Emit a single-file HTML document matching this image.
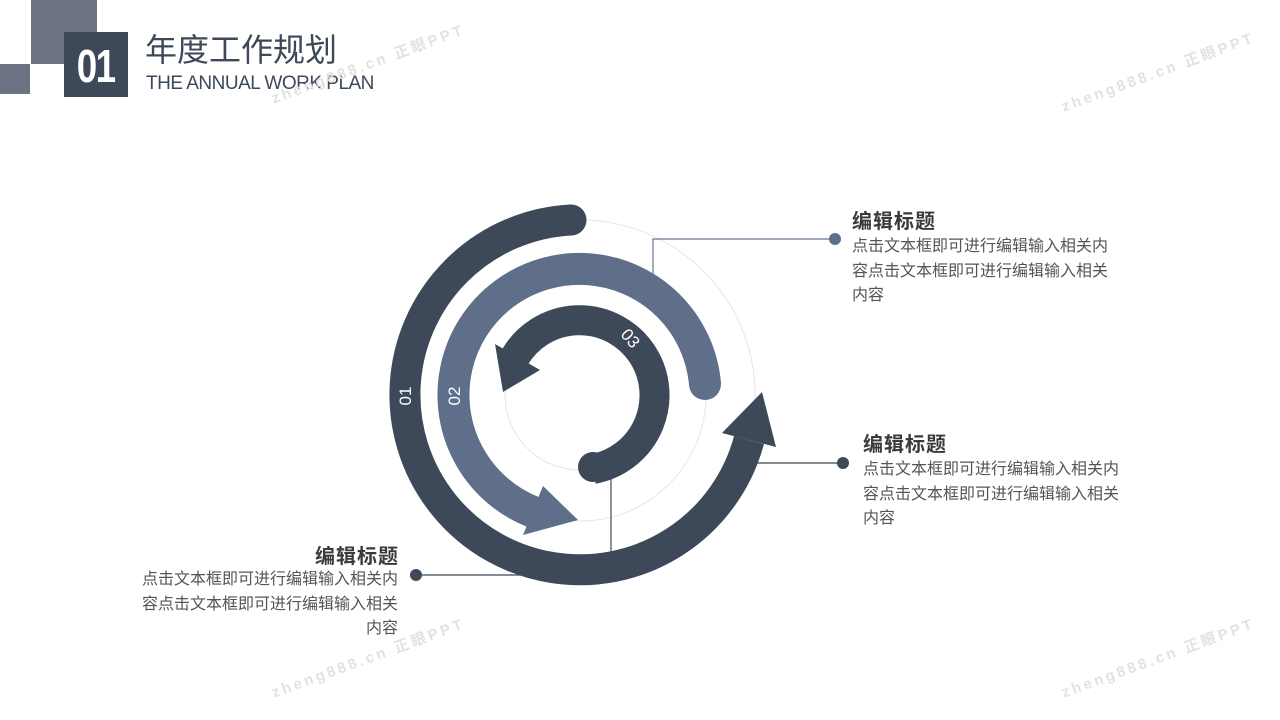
<!DOCTYPE html>
<html><head><meta charset="utf-8"><style>
body{margin:0;width:1280px;height:720px;overflow:hidden;background:#fff;position:relative;font-family:"Liberation Sans","Noto Sans CJK SC",sans-serif;}
.a{position:absolute;white-space:nowrap;}
.t{font-size:20px;font-weight:bold;color:#3a3a3a;letter-spacing:1px;line-height:24px;}
.b{font-size:16px;color:#555;letter-spacing:0;line-height:24.5px;}
.wm{position:absolute;color:#e2e2e2;font-size:15px;letter-spacing:3px;transform:rotate(-20deg);transform-origin:left center;font-weight:bold;white-space:nowrap;}
</style></head><body>
<div class="a" style="left:31px;top:0;width:66px;height:64px;background:#6c7383"></div>
<div class="a" style="left:0;top:64px;width:30px;height:30px;background:#6c7383"></div>
<div class="a" style="left:64px;top:32px;width:64px;height:65px;background:#3d4858;color:#fff;font-size:46px;font-weight:bold;text-align:center;line-height:68px;letter-spacing:-2px;"><span style="display:inline-block;transform:scaleX(0.8)">01</span></div>
<div class="a" style="left:145px;top:30px;font-size:32px;color:#3d4858;line-height:40px;">年度工作规划</div>
<div class="a" style="left:146px;top:73px;font-size:19px;color:#3d4858;letter-spacing:-0.5px;">THE ANNUAL WORK PLAN</div>

<div class="wm" style="left:272px;top:88px;">zheng888.cn 正眼PPT</div>
<div class="wm" style="left:1062px;top:96px;">zheng888.cn 正眼PPT</div>
<div class="wm" style="left:272px;top:682px;">zheng888.cn 正眼PPT</div>
<div class="wm" style="left:1062px;top:682px;">zheng888.cn 正眼PPT</div>

<svg class="a" style="left:0;top:0" width="1280" height="720">
<g fill="none" stroke="#e6e6e6" stroke-width="1">
<circle cx="580" cy="395" r="175"/><circle cx="580" cy="395" r="126"/><circle cx="580" cy="395" r="75"/>
</g>
<path d="M571,220 A175,175 0 1 0 749,440" fill="none" stroke="#3d4858" stroke-width="31"/>
<circle cx="571" cy="220" r="15.5" fill="#3d4858"/>
<polygon points="762,392 776,447 722,433" fill="#3d4858"/>
<path d="M705,384 A126,126 0 1 0 533,512" fill="none" stroke="#5f6f8a" stroke-width="32"/>
<circle cx="705" cy="384" r="16" fill="#5f6f8a"/>
<polygon points="578,520 543,486 523,535" fill="#5f6f8a"/>
<path d="M593,469 A75,75 0 1 0 515,357" fill="none" stroke="#3d4858" stroke-width="30"/>
<circle cx="593" cy="467" r="15" fill="#3d4858"/>
<polygon points="503,392 495,344 540,370" fill="#3d4858"/>
<g fill="#fff" font-size="17" font-family="Liberation Sans,sans-serif">
<text transform="translate(411,396) rotate(-90)" text-anchor="middle">01</text>
<text transform="translate(460,396) rotate(-90)" text-anchor="middle">02</text>
<text transform="translate(626,342) rotate(50)" text-anchor="middle">03</text>
</g>
<polyline points="653,276 653,239 835,239" fill="none" stroke="#6a7891" stroke-width="1.2"/>
<circle cx="835" cy="239" r="6" fill="#5f6f8a"/>
<line x1="757" y1="463" x2="843" y2="463" stroke="#3d4858" stroke-width="1.2"/>
<circle cx="843" cy="463" r="6" fill="#3d4858"/>
<line x1="611" y1="470" x2="611" y2="552" stroke="#3d4858" stroke-width="1.2"/>
<line x1="416" y1="575" x2="522" y2="575" stroke="#3d4858" stroke-width="1.2"/>
<circle cx="416" cy="575" r="6" fill="#3d4858"/>
</svg>

<div class="a t" style="left:852px;top:210px;">编辑标题</div>
<div class="a b" style="left:852px;top:235px;">点击文本框即可进行编辑输入相关内<br>容点击文本框即可进行编辑输入相关<br>内容</div>
<div class="a t" style="left:863px;top:433px;">编辑标题</div>
<div class="a b" style="left:863px;top:458px;">点击文本框即可进行编辑输入相关内<br>容点击文本框即可进行编辑输入相关<br>内容</div>
<div class="a t" style="right:881px;top:545px;text-align:right;">编辑标题</div>
<div class="a b" style="right:882px;top:568px;text-align:right;">点击文本框即可进行编辑输入相关内<br>容点击文本框即可进行编辑输入相关<br>内容</div>
</body></html>
